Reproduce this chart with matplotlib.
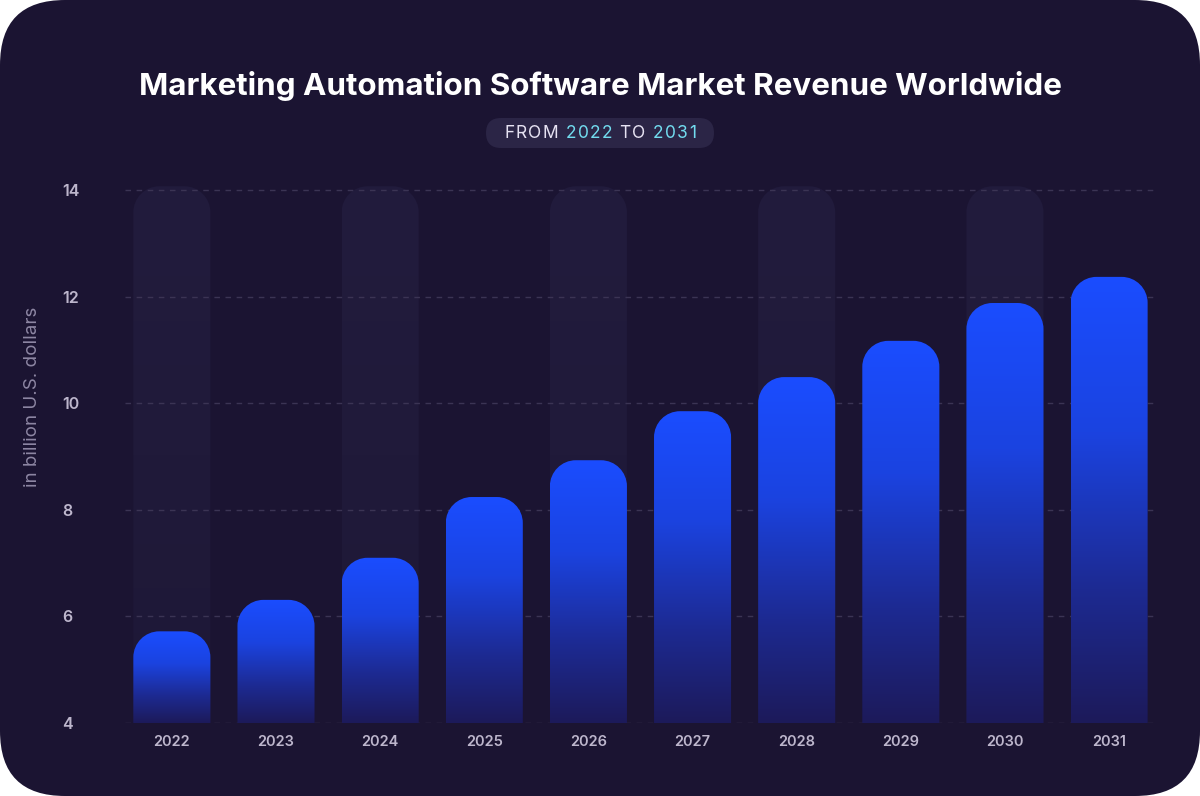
import numpy as np
import matplotlib
matplotlib.use("Agg")
import matplotlib.pyplot as plt
from matplotlib.path import Path
from matplotlib.patches import PathPatch, FancyBboxPatch
from matplotlib.colors import LinearSegmentedColormap

# data
years = ['2022', '2023', '2024', '2025', '2026', '2027', '2028', '2029', '2030', '2031']
revenue = [5.72, 6.31, 7.10, 8.24, 8.93, 9.85, 10.49, 11.17, 11.88, 12.37]
yticks = [4, 6, 8, 10, 12, 14]

BG = '#1b1432'
SHADOW = '#221c3d'
TICK_COL = '#bdb6cc'

plt.rcParams['font.family'] = ['Inter', 'DejaVu Sans']

fig = plt.figure(figsize=(12, 7.96), dpi=100)
fig.patch.set_facecolor('white')

# rounded card
card = FancyBboxPatch((0, 0), 12, 7.96, boxstyle='round,pad=0,rounding_size=0.65',
                      transform=fig.dpi_scale_trans, facecolor=BG, edgecolor='none', zorder=-10)
fig.patches.append(card)

px_y = 533 / 10.0             # pixels per y unit (4 -> 723px, 14 -> 190px)
x_lo, x_hi = -0.45, 9.46
y_lo, y_hi = 4, 14.1
ax_top = 723 - (y_hi - y_lo) * px_y
ax = fig.add_axes([125/1200, 1-723/796, 1032/1200, (723 - ax_top)/796])
ax.set_facecolor('none')
ax.set_xlim(x_lo, x_hi)
ax.set_ylim(y_lo, y_hi)

px_x = 1032 / (x_hi - x_lo)   # pixels per x unit
width = 0.74
r_px = 26
rx, ry = r_px / px_x, r_px / px_y
k = 0.5523


def top_rounded(x0, x1, y0, h):
    verts = [(x0, y0), (x0, h - ry),
             (x0, h - ry + k*ry), (x0 + rx - k*rx, h), (x0 + rx, h),
             (x1 - rx, h),
             (x1 - rx + k*rx, h), (x1, h - ry + k*ry), (x1, h - ry),
             (x1, y0), (x0, y0)]
    codes = [Path.MOVETO, Path.LINETO,
             Path.CURVE4, Path.CURVE4, Path.CURVE4,
             Path.LINETO,
             Path.CURVE4, Path.CURVE4, Path.CURVE4,
             Path.LINETO, Path.CLOSEPOLY]
    return Path(verts, codes)


blue_cmap = LinearSegmentedColormap.from_list(
    'bars', [(0, '#1c1a5a'), (0.3, '#1d2a92'), (0.65, '#1b43e0'), (1, '#1a4dff')])
shadow_cmap = LinearSegmentedColormap.from_list('shadow', ['#1e1837', SHADOW])
grad = np.linspace(0, 1, 256).reshape(-1, 1)

# background columns for every other year
for i in range(0, len(years), 2):
    x0, x1 = i - width/2, i + width/2
    top = 14.07
    p = PathPatch(top_rounded(x0, x1, y_lo, top), facecolor='none', edgecolor='none')
    ax.add_patch(p)
    im = ax.imshow(grad, extent=[x0, x1, y_lo, top], origin='lower', aspect='auto',
                   cmap=shadow_cmap, zorder=1, interpolation='bicubic')
    im.set_clip_path(p)

# grid
for t in yticks:
    ax.axhline(t, color='#3b3454', lw=1, ls=(0, (4, 4)), zorder=2)

# bars
for i, v in enumerate(revenue):
    x0, x1 = i - width/2, i + width/2
    p = PathPatch(top_rounded(x0, x1, y_lo, v), facecolor='none', edgecolor='none')
    ax.add_patch(p)
    im = ax.imshow(grad, extent=[x0, x1, y_lo, v], origin='lower', aspect='auto',
                   cmap=blue_cmap, zorder=3, interpolation='bicubic')
    im.set_clip_path(p)

ax.set_xlim(x_lo, x_hi)
ax.set_ylim(y_lo, y_hi)

for s in ax.spines.values():
    s.set_visible(False)
ax.set_xticks(range(len(years)))
ax.set_xticklabels(years)
ax.set_yticks(yticks)
ax.set_yticklabels([str(t) for t in yticks])
ax.tick_params(axis='both', length=0, colors=TICK_COL)
ax.tick_params(axis='x', pad=9, labelsize=10.5)
ax.tick_params(axis='y', pad=45, labelsize=11.5)
for lab in ax.get_yticklabels():
    lab.set_horizontalalignment('left')
    lab.set_fontweight('semibold')
for lab in ax.get_xticklabels():
    lab.set_fontweight('semibold')

fig.text(33/1200, 1-397/796, 'in billion U.S. dollars', rotation=90, ha='center', va='center',
         color='#8d86a3', fontsize=13.5)

# title
fig.text(0.5, 1-86/796, 'Marketing Automation Software Market Revenue Worldwide',
         ha='center', va='center', color='white', fontsize=22.6, fontweight='bold')

# subtitle pill
pill = FancyBboxPatch((4.86, 6.48), 2.28, 0.30, boxstyle='round,pad=0,rounding_size=0.15',
                      transform=fig.dpi_scale_trans, facecolor='#2b2546', edgecolor='none', zorder=0.5)
fig.patches.append(pill)

# letter-spaced subtitle, one glyph at a time
pieces = [('FROM ', '#e6e2f2'), ('2022', '#72dcef'), (' TO ', '#e6e2f2'), ('2031', '#72dcef')]
tracking = 1.3
renderer = fig.canvas.get_renderer()
glyphs = []
total = 0
for s, c in pieces:
    for ch in s:
        if ch == ' ':
            probe = fig.text(0, 0, 'a a', fontsize=12.5)
            w = probe.get_window_extent(renderer).width
            probe.set_text('aa')
            w -= probe.get_window_extent(renderer).width
            probe.remove()
            glyphs.append((None, w + tracking))
            total += w + tracking
            continue
        t = fig.text(0, 1-133/796, ch, color=c, fontsize=12.5, va='center', ha='left')
        w = t.get_window_extent(renderer).width + tracking
        glyphs.append((t, w))
        total += w
x = 600 - (total - tracking)/2
for t, w in glyphs:
    if t is not None:
        t.set_x(x/1200)
    x += w

fig.savefig('out.png', dpi=100, facecolor=fig.get_facecolor())
